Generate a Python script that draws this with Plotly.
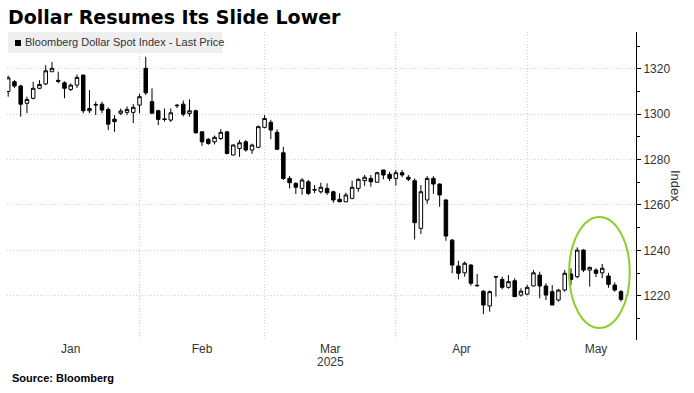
import pandas as pd
import plotly.graph_objects as go

# ---- data (Bloomberg Dollar Spot Index, daily OHLC) ----
trading_days = [d for d in pd.bdate_range("2025-01-02", "2025-05-21") if d != pd.Timestamp("2025-04-18")]

open_ = [1310.0, 1314.3, 1312.4, 1304.8, 1307.0, 1311.4, 1313.3, 1318.7, 1314.9, 1313.8,
         1310.9, 1312.8, 1317.2, 1301.5, 1304.0, 1304.4, 1302.1, 1297.8, 1300.4, 1300.8,
         1300.8, 1304.0, 1320.2, 1305.5, 1301.5, 1297.9, 1297.4, 1303.7, 1304.4, 1300.3,
         1301.5, 1292.2, 1288.9, 1287.8, 1289.3, 1292.2, 1282.0, 1284.9, 1287.8, 1284.2,
         1285.4, 1294.2, 1296.4, 1292.0, 1283.0, 1271.7, 1269.5, 1267.3, 1270.2, 1266.8,
         1265.8, 1267.3, 1265.8, 1262.5, 1261.4, 1262.9, 1267.3, 1270.7, 1271.7, 1270.0,
         1275.4, 1273.5, 1271.7, 1274.2, 1272.2, 1270.7, 1249.7, 1262.2, 1271.7, 1269.2,
         1262.2, 1244.5, 1233.1, 1230.1, 1233.5, 1224.6, 1222.0, 1215.5, 1228.2, 1227.2,
         1223.7, 1226.6, 1220.3, 1220.7, 1224.3, 1229.1, 1224.3, 1221.8, 1218.1, 1222.5,
         1229.6, 1228.4, 1240.1, 1231.3, 1231.3, 1230.1, 1228.7, 1224.7, 1221.8]
high = [1317.0, 1315.0, 1313.0, 1307.7, 1314.3, 1315.0, 1321.6, 1323.0, 1318.7, 1314.5,
        1313.5, 1317.5, 1317.4, 1310.6, 1305.5, 1305.5, 1303.0, 1299.6, 1302.5, 1303.4,
        1304.4, 1309.0, 1325.3, 1311.4, 1302.0, 1302.5, 1302.5, 1304.5, 1306.0, 1306.5,
        1302.0, 1292.5, 1289.5, 1290.6, 1293.4, 1292.5, 1286.7, 1288.6, 1288.6, 1287.0,
        1295.0, 1299.6, 1297.5, 1293.3, 1285.6, 1272.7, 1270.0, 1271.8, 1271.0, 1268.8,
        1269.8, 1269.5, 1266.3, 1265.1, 1265.4, 1270.7, 1271.8, 1273.2, 1273.2, 1274.6,
        1275.5, 1274.6, 1275.4, 1275.4, 1273.2, 1271.7, 1268.8, 1272.7, 1272.7, 1269.5,
        1262.5, 1245.0, 1235.4, 1235.1, 1234.0, 1229.6, 1222.5, 1222.3, 1228.6, 1228.4,
        1229.1, 1227.7, 1223.3, 1224.8, 1231.3, 1230.6, 1225.5, 1224.7, 1223.0, 1231.3,
        1232.1, 1241.3, 1240.5, 1232.8, 1232.1, 1234.0, 1230.1, 1225.9, 1222.5]
low = [1307.7, 1311.5, 1298.9, 1300.4, 1306.5, 1311.0, 1312.8, 1318.7, 1313.6, 1307.0,
       1310.2, 1311.5, 1300.4, 1300.4, 1299.6, 1300.4, 1293.0, 1292.2, 1299.6, 1299.6,
       1296.1, 1300.4, 1308.4, 1300.4, 1295.2, 1296.7, 1296.5, 1302.7, 1299.0, 1298.9,
       1291.4, 1286.0, 1286.5, 1286.7, 1288.6, 1282.2, 1281.9, 1281.2, 1283.5, 1282.5,
       1285.0, 1293.8, 1289.0, 1284.2, 1271.0, 1267.3, 1264.8, 1264.5, 1264.4, 1265.2,
       1265.0, 1264.4, 1261.0, 1261.2, 1261.2, 1262.5, 1265.8, 1268.4, 1268.0, 1269.8,
       1271.3, 1270.5, 1268.5, 1272.2, 1270.5, 1244.8, 1247.2, 1260.5, 1264.9, 1259.2,
       1244.2, 1229.9, 1227.2, 1228.4, 1224.4, 1224.3, 1211.9, 1213.0, 1219.6, 1222.8,
       1223.1, 1219.6, 1219.6, 1220.2, 1224.2, 1218.9, 1218.1, 1215.9, 1217.4, 1221.8,
       1224.7, 1227.7, 1230.4, 1224.0, 1228.2, 1227.7, 1223.5, 1221.8, 1217.4]
close = [1316.0, 1312.4, 1304.4, 1306.5, 1311.4, 1313.1, 1319.1, 1320.2, 1314.5, 1311.4,
         1312.8, 1316.2, 1301.5, 1302.5, 1304.2, 1301.8, 1295.6, 1296.7, 1301.4, 1302.1,
         1303.0, 1307.7, 1309.4, 1300.4, 1297.7, 1297.7, 1300.6, 1303.9, 1300.0, 1301.5,
         1291.8, 1287.8, 1287.1, 1289.8, 1292.0, 1282.7, 1286.4, 1287.4, 1284.2, 1286.4,
         1294.5, 1298.1, 1293.0, 1284.5, 1271.7, 1269.8, 1267.8, 1271.0, 1265.1, 1266.6,
         1267.8, 1265.4, 1262.2, 1261.4, 1264.4, 1267.8, 1271.3, 1272.2, 1270.2, 1274.2,
         1273.2, 1271.7, 1274.2, 1273.2, 1271.3, 1252.2, 1265.8, 1271.7, 1269.2, 1264.4,
         1246.3, 1233.5, 1229.9, 1234.3, 1225.5, 1224.4, 1215.9, 1221.8, 1228.4, 1223.7,
         1226.2, 1219.6, 1222.0, 1223.7, 1230.1, 1224.3, 1220.3, 1215.9, 1222.5, 1229.9,
         1227.2, 1240.1, 1231.3, 1232.5, 1229.9, 1232.1, 1225.0, 1222.5, 1218.4]

month_labels = ["Jan", "Feb", "Mar", "Apr", "May"]
y_ticks = [1220, 1240, 1260, 1280, 1300, 1320]

# ---- x positions: trading-day index ----
idx = list(range(len(trading_days)))
ser = pd.Series(idx, index=pd.DatetimeIndex(trading_days))
month_ends = ser.groupby(ser.index.month).max().tolist()       # last trading day of each month
jan_start = month_ends[0] - len(ser[ser.index.month == 1])
may_full = len(pd.bdate_range("2025-05-01", "2025-05-31"))
bounds = [jan_start] + month_ends[:-1] + [month_ends[-2] + may_full]
label_pos = [(bounds[i] + bounds[i + 1]) / 2 for i in range(len(month_labels))]
grid_x = month_ends[:-1]

FONT = "Liberation Sans, Arial, sans-serif"
GRID = "#cfcfcf"
DOTS = "1px,2px"

fig = go.Figure(go.Candlestick(
    x=idx, open=open_, high=high, low=low, close=close,
    text=[d.strftime("%Y-%m-%d") for d in trading_days],
    increasing=dict(line=dict(color="black", width=1), fillcolor="white"),
    decreasing=dict(line=dict(color="black", width=1), fillcolor="black"),
    whiskerwidth=0, showlegend=False,
))

fig.update_layout(
    width=694, height=393,
    margin=dict(l=7, r=58, t=32, b=53),
    paper_bgcolor="white", plot_bgcolor="white",
    boxgap=0.2,
    font=dict(family=FONT, size=12, color="#333333"),
    xaxis=dict(
        range=[-0.19, 100.4], rangeslider=dict(visible=False),
        tickmode="array", tickvals=label_pos, ticktext=month_labels,
        showgrid=False, ticks="", showline=False, zeroline=False,
        tickfont=dict(size=12, color="#333333"),
        minor=dict(tickmode="array", tickvals=grid_x, showgrid=True,
                   gridcolor=GRID, griddash=DOTS, gridwidth=1, ticks=""),
    ),
    yaxis=dict(
        side="right", range=[1200.5, 1336.2],
        tickmode="array", tickvals=y_ticks,
        showgrid=True, gridcolor=GRID, griddash=DOTS, gridwidth=1,
        showline=True, linecolor="black", linewidth=1, zeroline=False,
        ticks="outside", ticklen=4, tickcolor="black",
        minor=dict(dtick=10, tick0=1200, ticks="outside", ticklen=3, tickcolor="black", showgrid=False),
        tickfont=dict(size=12, color="#333333"),
    ),
    shapes=[
        dict(type="rect", xref="paper", yref="paper", x0=0.0016, x1=0.3418, y0=0.932, y1=1.0,
             fillcolor="#efefef", line=dict(width=0), layer="above"),
        dict(type="rect", xref="paper", yref="paper", x0=0.0127, x1=0.0222, y0=0.9545, y1=0.974,
             fillcolor="black", line=dict(width=0), layer="above"),
        dict(type="circle", xref="x", yref="y", x0=89.7, x1=99.4, y0=1205.8, y1=1254.7,
             line=dict(color="#8ccf2a", width=2)),
    ],
    annotations=[
        dict(text="<b>Dollar Resumes Its Slide Lower</b>", xref="paper", yref="paper",
             x=-0.0016, y=1.049, xanchor="left", yanchor="middle", showarrow=False,
             font=dict(family="DejaVu Sans, Verdana, sans-serif", size=19, color="black")),
        dict(text="Bloomberg Dollar Spot Index - Last Price", xref="paper", yref="paper",
             x=0.0255, y=0.966, xanchor="left", yanchor="middle", showarrow=False,
             font=dict(family=FONT, size=11, color="#333333")),
        dict(text="Index", xref="paper", yref="paper", x=1.0636, y=0.5, textangle=90,
             xanchor="center", yanchor="middle", showarrow=False,
             font=dict(family=FONT, size=13, color="#333333")),
        dict(text="2025", xref="x", yref="paper", x=label_pos[2], y=-0.071,
             xanchor="center", yanchor="middle", showarrow=False,
             font=dict(family=FONT, size=12, color="#333333")),
        dict(text="<b>Source: Bloomberg</b>", xref="paper", yref="paper",
             x=0.0048, y=-0.123, xanchor="left", yanchor="middle", showarrow=False,
             font=dict(family=FONT, size=11, color="black")),
    ],
)

fig.write_html("out.html", config={"displayModeBar": False},
               post_script="document.body.style.margin='0';")
